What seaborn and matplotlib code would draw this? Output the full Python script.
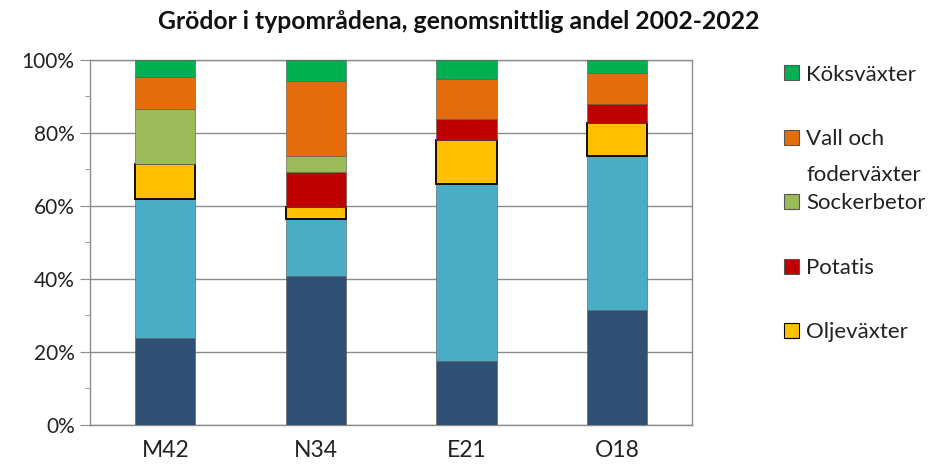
import numpy as np
import pandas as pd
import matplotlib
matplotlib.use("Agg")
import matplotlib.pyplot as plt
import seaborn as sns
from matplotlib.patches import Patch
from matplotlib.ticker import MultipleLocator, PercentFormatter

# Typområden och genomsnittlig andel (%) per grödgrupp
omraden = ["M42", "N34", "E21", "O18"]
spannmal_1 = [23.7, 40.9, 17.4, 31.5]
spannmal_2 = [38.2, 15.5, 48.6, 42.2]
oljevaxter = [9.5, 3.4, 12.1, 9.0]
potatis = [0.0, 9.5, 5.7, 5.2]
sockerbetor = [15.2, 4.4, 0.0, 0.0]
vall = [8.6, 20.6, 10.9, 8.6]
koksvaxter = [4.8, 5.7, 5.3, 3.5]

serier = ["Spannmål 1", "Spannmål 2", "Oljeväxter", "Potatis",
          "Sockerbetor", "Vall och foderväxter", "Köksväxter"]
farger = ["#2F4F75", "#4BACC6", "#FFC000", "#C00000",
          "#9BBB59", "#E46C0A", "#00B050"]

df = pd.DataFrame({
    "omrade": omraden,
    "Spannmål 1": spannmal_1,
    "Spannmål 2": spannmal_2,
    "Oljeväxter": oljevaxter,
    "Potatis": potatis,
    "Sockerbetor": sockerbetor,
    "Vall och foderväxter": vall,
    "Köksväxter": koksvaxter,
})

sns.set_style("white")
plt.rcParams["font.family"] = ["Lato", "DejaVu Sans"]

fig = plt.figure(figsize=(9.37, 4.68), dpi=100)
ax = fig.add_axes([0.096, 0.092, 0.643, 0.780])

bottom = np.zeros(len(omraden))
for namn, farg in zip(serier, farger):
    kant = "black" if namn == "Oljeväxter" else "#555555"
    lw = 1.3 if namn == "Oljeväxter" else 0.4
    sns.barplot(data=df, x="omrade", y=namn, color=farg, width=0.4,
                bottom=bottom, edgecolor=kant, linewidth=lw,
                saturation=1, ax=ax, zorder=3)
    bottom = bottom + df[namn].values

ax.set_ylim(0, 100)
ax.set_xlim(-0.5, 3.5)
ax.yaxis.set_major_locator(MultipleLocator(20))
ax.yaxis.set_minor_locator(MultipleLocator(10))
ax.yaxis.set_major_formatter(PercentFormatter(decimals=0))
ax.grid(axis="y", which="major", color="#8c8c8c", linewidth=1, zorder=0)
ax.set_axisbelow(True)
for s in ax.spines.values():
    s.set_color("#8c8c8c")
    s.set_linewidth(1)
ax.tick_params(axis="y", which="major", length=7, color="#8c8c8c",
               labelsize=15, labelcolor="#222222", left=True, pad=4)
ax.tick_params(axis="y", which="minor", length=3.5, color="#8c8c8c", left=True)
ax.tick_params(axis="x", length=0, labelsize=16.5, labelcolor="#222222", pad=11)
ax.set_xlabel("")
ax.set_ylabel("")

fig.text(0.489, 0.953, "Grödor i typområdena, genomsnittlig andel 2002-2022",
         ha="center", va="center", fontsize=17.8, fontweight="bold",
         color="#111111")

# legend: bara de fem övre grupperna, uppifrån och ned
leg_namn = ["Köksväxter", "Vall och", "Sockerbetor", "Potatis", "Oljeväxter"]
leg_farg = ["#00B050", "#E46C0A", "#9BBB59", "#C00000", "#FFC000"]
handles = []
for namn, farg in zip(leg_namn, leg_farg):
    kant = "black" if namn == "Oljeväxter" else "#555555"
    handles.append(Patch(facecolor=farg, edgecolor=kant, linewidth=0.8))
leg = fig.legend(handles, leg_namn, loc="upper left",
                 bbox_to_anchor=(0.837, 0.862), frameon=False,
                 fontsize=16, handlelength=0.65, handleheight=0.65,
                 handletextpad=0.35, labelspacing=2.0, borderpad=0,
                 borderaxespad=0)
for t in leg.get_texts():
    t.set_color("#222222")

fig.canvas.draw()
bb = leg.get_texts()[1].get_window_extent().transformed(fig.transFigure.inverted())
fig.text(bb.x0, bb.y0 - 0.077, "foderväxter", fontsize=16,
         color="#222222", ha="left", va="bottom")

fig.savefig("out.png", dpi=100)
